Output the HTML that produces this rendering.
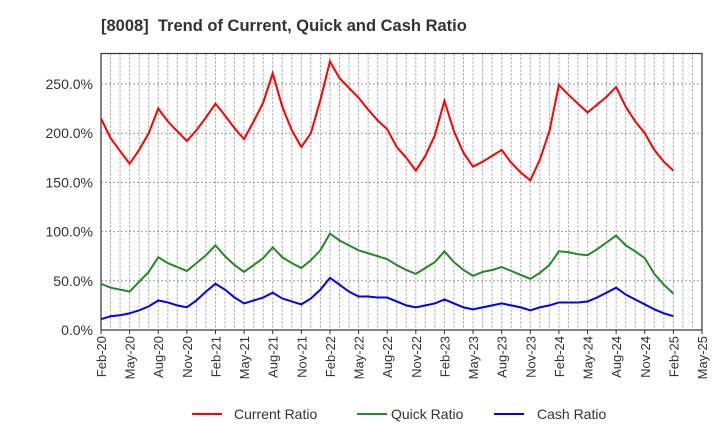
<!DOCTYPE html>
<html><head><meta charset="utf-8"><style>
body{margin:0;background:#fff;font-family:"Liberation Sans",sans-serif;}
</style></head><body>
<svg id="chart" width="720" height="440" xmlns="http://www.w3.org/2000/svg" font-family="Liberation Sans, sans-serif">
<text x="101" y="31" font-size="16.5" font-weight="bold" fill="#333">[8008]&#160; Trend of Current, Quick and Cash Ratio</text>
<g id="grid"></g><g id="axes"></g><g id="series"></g>
<g>
<line x1="192" y1="414" x2="222" y2="414" stroke="#f00" stroke-width="2"/>
<text x="234" y="419" font-size="14" fill="#333">Current Ratio</text>
<line x1="357" y1="414" x2="387" y2="414" stroke="#228b22" stroke-width="2"/>
<text x="391" y="419" font-size="14" fill="#333">Quick Ratio</text>
<line x1="494" y1="414" x2="524" y2="414" stroke="#00f" stroke-width="2"/>
<text x="537" y="419" font-size="14" fill="#333">Cash Ratio</text>
</g>
</svg>
<script>
const xTickLabels=["Feb-20","May-20","Aug-20","Nov-20","Feb-21","May-21","Aug-21","Nov-21","Feb-22","May-22","Aug-22","Nov-22","Feb-23","May-23","Aug-23","Nov-23","Feb-24","May-24","Aug-24","Nov-24","Feb-25","May-25"];
const yTicks=[0,50,100,150,200,250];
const currentRatio=[215,195,182,169,183,200,225,212,202,192,203,216,230,218,205,194,212,231,261,227,203,186,200,234,273,256,246,236,224,213,204,186,175,162,177,198,233,202,180,166,171,177,183,170,160,152,173,202,249,239,230,221,229,237,247,227,212,200,183,171,162];
const quickRatio=[47,43,41,39,49,59,74,68,64,60,68,76,86,75,66,59,66,73,84,74,68,63,71,81,98,91,86,81,78,75,72,66,61,57,63,69,80,69,61,55,59,61,64,60,56,52,58,66,80,79,77,76,82,89,96,86,80,73,57,46,37];
const cashRatio=[11,14,15,17,20,24,30,28,25,23,30,39,47,41,33,27,30,33,38,32,29,26,32,41,53,46,39,34,34,33,33,29,25,23,25,27,31,27,23,21,23,25,27,25,23,20,23,25,28,28,28,29,33,38,43,36,31,26,21,17,14];
const L=101,R=702,T=53.5,B=330,NM=63;
const xS=i=>L+i*(R-L)/NM;
const yS=v=>B-v*(B-84)/250;
const ns="http://www.w3.org/2000/svg";
function mk(tag,attrs,parent,txt){const e=document.createElementNS(ns,tag);for(const k in attrs)e.setAttribute(k,attrs[k]);if(txt!==undefined)e.textContent=txt;parent.appendChild(e);return e;}
const grid=document.getElementById('grid'),axes=document.getElementById('axes'),series=document.getElementById('series');
for(let i=1;i<NM;i++){const g=mk('line',{x1:xS(i),x2:xS(i),y1:T,y2:B,stroke:'#999','stroke-width':1,'stroke-dasharray':'2,2'},grid);

}
yTicks.forEach(v=>{if(v>0){const g=mk('line',{x1:L,x2:R,y1:yS(v),y2:yS(v),stroke:'#999','stroke-width':1,'stroke-dasharray':'2,2'},grid);

}
const t=mk('text',{x:L-8,y:yS(v)+5,'text-anchor':'end','font-size':14,fill:'#333'},axes,v.toFixed(1)+'%');

});
xTickLabels.forEach((s,k)=>{const x=xS(k*3);
const tk=mk('line',{x1:x,x2:x,y1:B,y2:B+4,stroke:'#333'},axes);


const t=mk('text',{x:0,y:0,transform:`translate(${x+5},${B+6}) rotate(-90)`,'text-anchor':'end','font-size':13,fill:'#333'},axes,s);

});
const fr=mk('rect',{x:L,y:T,width:R-L,height:B-T,fill:'none',stroke:'#333','stroke-width':1.2},axes);


[[currentRatio,'#f00','current-ratio-line'],[quickRatio,'#228b22','quick-ratio-line'],[cashRatio,'#00f','cash-ratio-line']].forEach(([d,c,n])=>{
const p=mk('polyline',{points:d.map((v,i)=>xS(i)+','+yS(v)).join(' '),fill:'none',stroke:c,'stroke-width':2,'stroke-linejoin':'miter'},series);

});
</script>
</body></html>
